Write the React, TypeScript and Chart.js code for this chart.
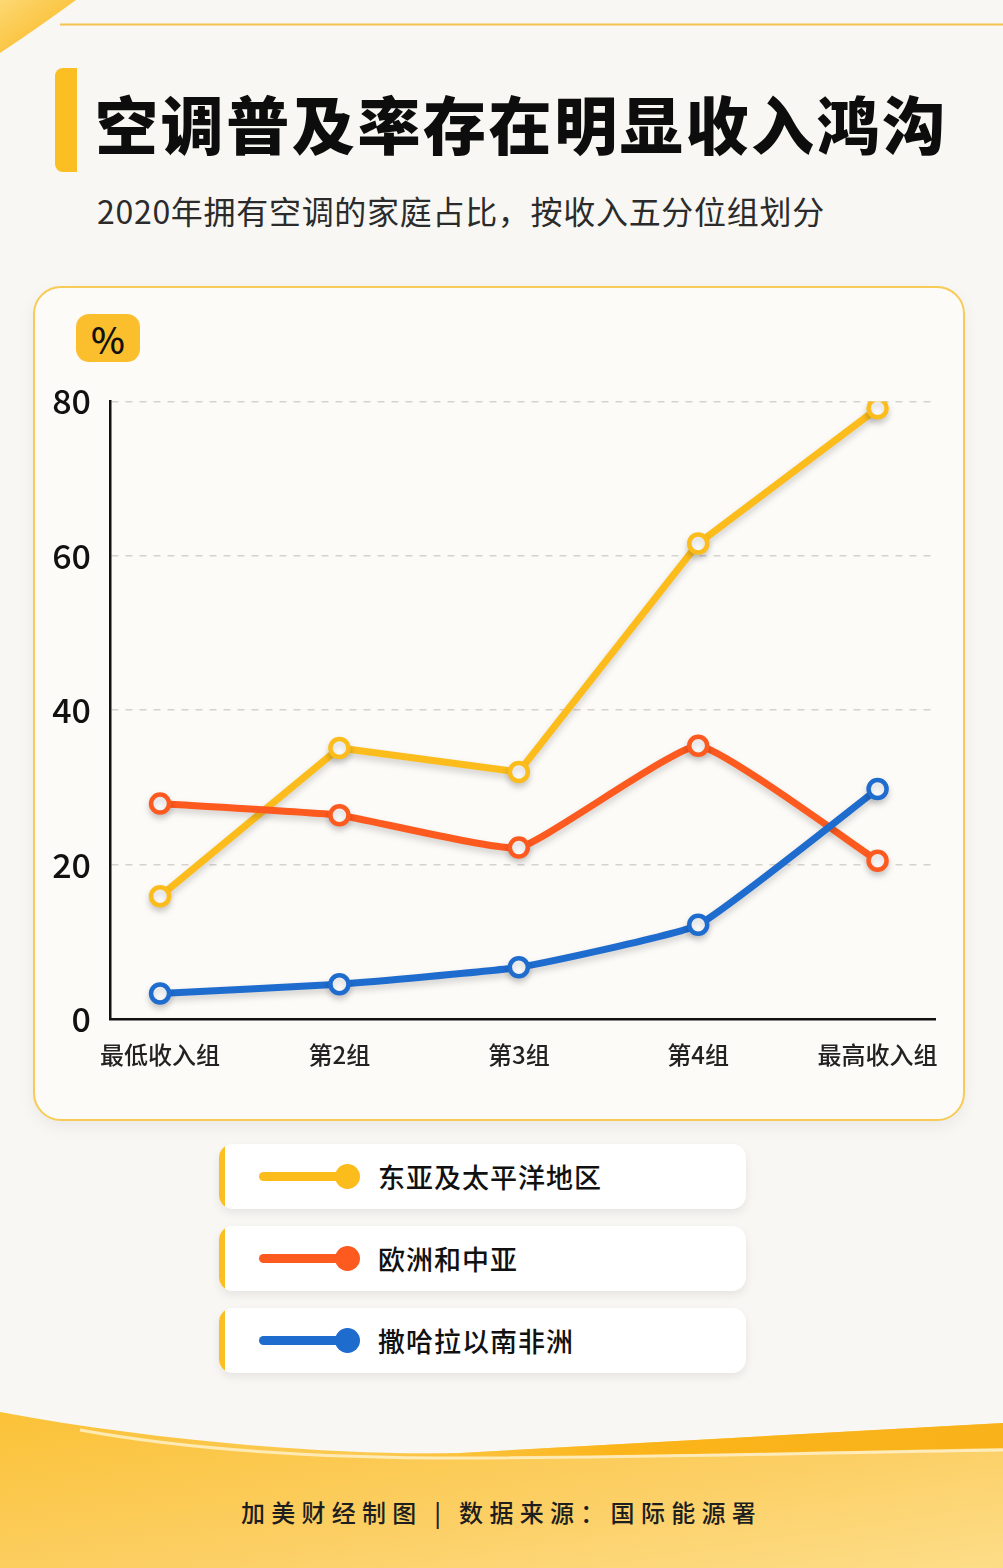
import React, { useEffect, useRef } from "react";
import { Chart, registerables } from "chart.js";

Chart.register(...registerables);

const CATEGORIES = ["最低收入组", "第2组", "第3组", "第4组", "最高收入组"];
const SERIES_NAMES = ["东亚及太平洋地区", "欧洲和中亚", "撒哈拉以南非洲"];
const EAST_ASIA = [15.9, 35.1, 32.0, 61.6, 79.1];
const EUROPE_CA = [27.9, 26.4, 22.2, 35.4, 20.5];
const SSA = [3.3, 4.5, 6.7, 12.2, 29.8];
const Y_TICKS = [0, 20, 40, 60, 80];
const COLORS = ["#FCBD1C", "#FD5A1F", "#1F6CCF"];
const TENSIONS = [0, 0.12, 0.12];

const FONT = '"Noto Sans CJK SC", "Noto Sans", sans-serif';

const shadowPlugin = {
  id: "lineShadow",
  beforeDatasetsDraw(chart: any) {
    const ctx = chart.ctx;
    ctx.save();
    ctx.shadowColor = "rgba(0,0,0,0.18)";
    ctx.shadowBlur = 7;
    ctx.shadowOffsetY = 4;
  },
  afterDatasetsDraw(chart: any) {
    chart.ctx.restore();
  },
};

function LineChart() {
  const ref = useRef<HTMLCanvasElement | null>(null);
  useEffect(() => {
    if (!ref.current) return;
    const all = [EAST_ASIA, EUROPE_CA, SSA];
    const chart = new Chart(ref.current, {
      type: "line",
      data: {
        datasets: all.map((arr, k) => ({
          label: SERIES_NAMES[k],
          data: arr.map((v, i) => ({ x: i, y: v })),
          borderColor: COLORS[k],
          backgroundColor: "#ffffff",
          borderWidth: 7,
          pointRadius: 9,
          pointBorderWidth: 4.5,
          pointBackgroundColor: "#ffffff",
          pointBorderColor: COLORS[k],
          tension: TENSIONS[k],
          borderCapStyle: "round",
          borderJoinStyle: "round",
          order: 2 - k,
        })),
      },
      options: {
        animation: false,
        responsive: false,
        maintainAspectRatio: false,
        layout: { padding: { top: 0, right: 28, left: 0, bottom: 0 } },
        plugins: { legend: { display: false }, tooltip: { enabled: false } },
        scales: {
          x: {
            type: "linear",
            min: -0.279,
            max: 4.32,
            afterBuildTicks: (scale: any) => {
              scale.ticks = CATEGORIES.map((_, i) => ({ value: i }));
            },
            afterFit: (scale: any) => {
              scale.height = 81;
            },
            grid: { display: false, drawTicks: false },
            border: { display: true, color: "#111111", width: 2.5 },
            ticks: {
              autoSkip: false,
              maxRotation: 0,
              padding: 21,
              color: "#222222",
              font: { family: FONT, size: 24, weight: "500" },
              callback: (v: any) => CATEGORIES[Math.round(Number(v))] ?? "",
            },
          },
          y: {
            min: Y_TICKS[0],
            max: Y_TICKS[Y_TICKS.length - 1],
            afterBuildTicks: (scale: any) => {
              scale.ticks = Y_TICKS.map((v) => ({ value: v }));
            },
            afterFit: (scale: any) => {
              scale.width = 77;
            },
            grid: {
              drawTicks: false,
              color: (c: any) => (c.tick && c.tick.value === 0 ? "rgba(0,0,0,0)" : "#d6d3cf"),
              lineWidth: 1.5,
            },
            border: { display: true, color: "#111111", width: 2.5, dash: [7, 7] },
            ticks: {
              padding: 19,
              color: "#111111",
              font: { family: FONT, size: 34, weight: "500" },
            },
          },
        },
      },
      plugins: [shadowPlugin],
    } as any);
    return () => chart.destroy();
  }, []);
  return <canvas ref={ref} width={930} height={738} style={{ position: "absolute", left: 33, top: 362, width: 930, height: 738 }} />;
}

function LegendItem({ name, color, top }: { name: string; color: string; top: number }) {
  return (
    <div
      style={{
        position: "absolute",
        left: 219,
        top,
        width: 527,
        height: 65,
        background: "#ffffff",
        borderRadius: 14,
        boxShadow: "0 4px 10px rgba(0,0,0,0.08)",
        overflow: "hidden",
      }}
    >
      <div style={{ position: "absolute", left: 0, top: 0, width: 6, height: 65, background: "#FBBF24" }} />
      <div style={{ position: "absolute", left: 40, top: 28, width: 82, height: 9, borderRadius: 5, background: color }} />
      <div style={{ position: "absolute", left: 116, top: 20, width: 25, height: 25, borderRadius: "50%", background: color }} />
      <div
        style={{
          position: "absolute",
          left: 159,
          top: 0,
          height: 65,
          lineHeight: "65px",
          fontFamily: FONT,
          fontSize: 27,
          fontWeight: 500,
          color: "#111111",
          letterSpacing: 1,
        }}
      >
        {name}
      </div>
    </div>
  );
}

export default function App() {
  return (
    <div
      style={{
        position: "absolute",
        left: 0,
        top: 0,
        width: 1003,
        height: 1568,
        overflow: "hidden",
        background: "#F8F7F3",
        fontFamily: FONT,
      }}
    >
      <svg width={1003} height={1568} style={{ position: "absolute", left: 0, top: 0 }}>
        <defs>
          <linearGradient id="corner" x1="0" y1="0" x2="1" y2="1">
            <stop offset="0" stopColor="#FDD873" />
            <stop offset="1" stopColor="#F8B417" />
          </linearGradient>
          <linearGradient id="foot" x1="0" y1="0" x2="1" y2="1">
            <stop offset="0" stopColor="#FBC237" />
            <stop offset="0.6" stopColor="#FCD067" />
            <stop offset="1" stopColor="#FDDD88" />
          </linearGradient>
          <linearGradient id="band" x1="0" y1="0" x2="1" y2="0">
            <stop offset="0" stopColor="#FBBE2A" stopOpacity="0" />
            <stop offset="0.45" stopColor="#FBB51A" />
            <stop offset="1" stopColor="#F9B21A" />
          </linearGradient>
        </defs>
        <path d="M0,0 L76,0 Q32,32 0,53 Z" fill="url(#corner)" />
        <line x1={60} y1={24.5} x2={1003} y2={24.5} stroke="#F6C24E" strokeWidth={2} />
        <path d="M0,1412 C150,1440 330,1456 460,1453 L1003,1423 L1003,1568 L0,1568 Z" fill="url(#foot)" />
        <path d="M300,1452 C380,1455 420,1455 460,1453 L1003,1423 L1003,1448 C800,1452 600,1456 460,1458 Z" fill="url(#band)" />
        <path d="M80,1430 C200,1452 330,1458 460,1458 C650,1458 850,1452 1003,1450" stroke="#FFF3CF" strokeOpacity={0.8} strokeWidth={3} fill="none" />
      </svg>

      <div style={{ position: "absolute", left: 55, top: 68, width: 22, height: 104, background: "#FBBF24", borderRadius: "8px 0 0 8px" }} />
      <div
        style={{
          position: "absolute",
          left: 95,
          top: 80,
          height: 84,
          lineHeight: "84px",
          fontSize: 63,
          fontWeight: 900,
          color: "#0D0D0D",
          letterSpacing: 2.6,
          whiteSpace: "nowrap",
        }}
      >
        空调普及率存在明显收入鸿沟
      </div>
      <div
        style={{
          position: "absolute",
          left: 97,
          top: 189,
          height: 42,
          lineHeight: "42px",
          fontSize: 32,
          fontWeight: 400,
          color: "#2B2B2B",
          letterSpacing: 0.7,
          whiteSpace: "nowrap",
        }}
      >
        2020年拥有空调的家庭占比，按收入五分位组划分
      </div>

      <div
        style={{
          position: "absolute",
          left: 33,
          top: 286,
          width: 928,
          height: 831,
          border: "2px solid #F7CB55",
          borderRadius: 28,
          background: "#FCFBF8",
          boxShadow: "0 6px 16px rgba(0,0,0,0.06)",
        }}
      />
      <div
        style={{
          position: "absolute",
          left: 76,
          top: 314,
          width: 64,
          height: 48,
          borderRadius: 13,
          background: "#FBBF2E",
          textAlign: "center",
          lineHeight: "48px",
          fontSize: 36,
          fontWeight: 500,
          color: "#111111",
        }}
      >
        %
      </div>
      <LineChart />

      {SERIES_NAMES.map((n, k) => (
        <LegendItem key={n} name={n} color={COLORS[k]} top={1144 + k * 82} />
      ))}

      <div
        style={{
          position: "absolute",
          left: 0,
          width: 1003,
          top: 1492,
          height: 40,
          lineHeight: "40px",
          textAlign: "center",
          fontSize: 24,
          fontWeight: 500,
          color: "#1E1E1E",
          letterSpacing: 6.3,
          whiteSpace: "nowrap",
        }}
      >
        加美财经制图 | 数据来源：国际能源署
      </div>
    </div>
  );
}
